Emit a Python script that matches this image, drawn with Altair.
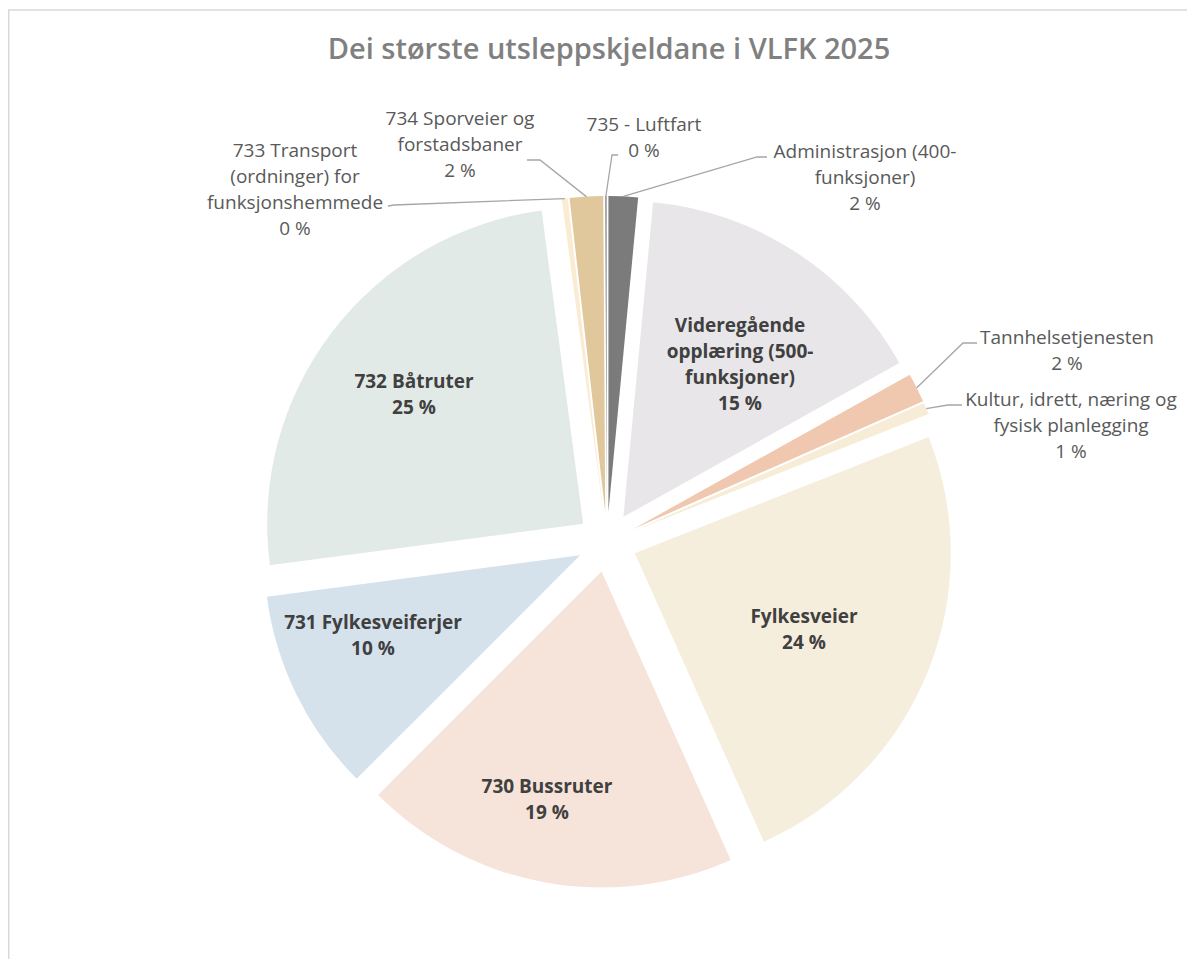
import math
import altair as alt
import pandas as pd

# ---------------- data ----------------
title_text = "Dei største utsleppskjeldane i VLFK 2025"

categories = [
    "Administrasjon (400-funksjoner)",
    "Videregående opplæring (500-funksjoner)",
    "Tannhelsetjenesten",
    "Kultur, idrett, næring og fysisk planlegging",
    "Fylkesveier",
    "730 Bussruter",
    "731 Fylkesveiferjer",
    "732 Båtruter",
    "733 Transport (ordninger) for funksjonshemmede",
    "734 Sporveier og forstadsbaner",
    "735 - Luftfart",
]
values = [1.5, 15.4, 1.5, 0.6, 24.3, 19.2, 10.4, 25.0, 0.3, 1.7, 0.1]

label_lines = [
    ["Administrasjon (400-", "funksjoner)"],
    ["Videregående", "opplæring (500-", "funksjoner)"],
    ["Tannhelsetjenesten"],
    ["Kultur, idrett, næring og", "fysisk planlegging"],
    ["Fylkesveier"],
    ["730 Bussruter"],
    ["731 Fylkesveiferjer"],
    ["732 Båtruter"],
    ["733 Transport", "(ordninger) for", "funksjonshemmede"],
    ["734 Sporveier og", "forstadsbaner"],
    ["735 - Luftfart"],
]
label_inside = [False, True, False, False, True, True, True, True, False, False, False]

# ---------------- styles / layout ----------------
colors = ["#7b7b7b", "#e8e6e9", "#f0c8b0", "#f7ecd6", "#f6eedd", "#f6e3d9",
          "#d5e2ec", "#e2eae7", "#faecd3", "#e0c89c", "#a5a5a5"]

# label block centres in the chart area (pixels)
label_x = [857, 732, 1059, 1063, 796, 539, 365, 406, 287, 452, 636]
label_y = [170, 357, 343, 418, 622, 792, 628, 387, 182, 137, 130]
# leader line elbow and end points (outside labels only)
elbow_x = [749, None, 955, 940, None, None, None, None, 386, 532, 604]
elbow_y = [149, None, 335, 397, None, None, None, None, 197, 152, 147]
end_x = [759, None, 969, 954, None, None, None, None, 380, 519, 610]
end_y = [149, None, 335, 397, None, None, None, None, 198, 152, 147]

W, H = 1179, 951
CX, CY = 599, 534
R = 316
EXPLODE = 30
FONT = "Open Sans"
LH = 26

total = sum(values)
starts, ends = [], []
acc = 0.0
for v in values:
    starts.append(acc)
    acc += v
    ends.append(acc)


def pct(v):
    return f"{int(v / total * 100 + 0.5)} %"


rows, lines = [], []
for i, c in enumerate(categories):
    mid = (starts[i] + ends[i]) / 2 / total * 2 * math.pi
    txt = label_lines[i] + [pct(values[i])]
    rows.append(dict(
        cat=c, value=values[i], start=starts[i], end=ends[i],
        ox=CX + EXPLODE * math.sin(mid), oy=CY - EXPLODE * math.cos(mid),
        lx=label_x[i], ly=label_y[i] - (len(txt) - 1) * LH / 2,
        label="\n".join(txt),
        inside=label_inside[i],
    ))
    if not label_inside[i]:
        rr = R + EXPLODE
        lines.append(dict(cat=c, seq=0, x=CX + rr * math.sin(mid), y=CY - rr * math.cos(mid)))
        lines.append(dict(cat=c, seq=1, x=elbow_x[i], y=elbow_y[i]))
        lines.append(dict(cat=c, seq=2, x=end_x[i], y=end_y[i]))

df = pd.DataFrame(rows)
df_in = df[df["inside"]]
df_out = df[~df["inside"]]
df_lines = pd.DataFrame(lines)

arcs = alt.Chart(df).mark_arc(outerRadius=R, innerRadius=0).encode(
    theta=alt.Theta("start:Q", scale=alt.Scale(domain=[0, total])),
    theta2="end:Q",
    x=alt.X("ox:Q", scale=None, axis=None),
    y=alt.Y("oy:Q", scale=None, axis=None),
    color=alt.Color("cat:N", scale=alt.Scale(domain=categories, range=colors), legend=None),
)

leaders = alt.Chart(df_lines).mark_line(color="#a6a6a6", strokeWidth=1.3).encode(
    x=alt.X("x:Q", scale=None, axis=None),
    y=alt.Y("y:Q", scale=None, axis=None),
    detail="cat:N",
    order="seq:O",
)

text_in = alt.Chart(df_in).mark_text(
    font=FONT, fontSize=19, fontWeight="bold", color="#404040",
    lineBreak="\n", lineHeight=LH, align="center", baseline="middle",
).encode(
    x=alt.X("lx:Q", scale=None, axis=None),
    y=alt.Y("ly:Q", scale=None, axis=None),
    text="label:N",
)

text_out = alt.Chart(df_out).mark_text(
    font=FONT, fontSize=19, color="#595959",
    lineBreak="\n", lineHeight=LH, align="center", baseline="middle",
).encode(
    x=alt.X("lx:Q", scale=None, axis=None),
    y=alt.Y("ly:Q", scale=None, axis=None),
    text="label:N",
)

title = alt.Chart(pd.DataFrame({"t": [title_text]})).mark_text(
    font=FONT, fontSize=29, fontWeight=600, color="#808080",
    align="center", baseline="middle",
).encode(x=alt.value(601), y=alt.value(42), text="t:N")

frame_top = alt.Chart(pd.DataFrame({"a": [0]})).mark_rule(color="#d9d9d9", strokeWidth=1.5).encode(
    x=alt.value(0), x2=alt.value(W), y=alt.value(2))
frame_left = alt.Chart(pd.DataFrame({"a": [0]})).mark_rule(color="#d9d9d9", strokeWidth=1.5).encode(
    x=alt.value(0.75), y=alt.value(2), y2=alt.value(H))

chart = alt.layer(frame_top, frame_left, arcs, leaders, text_in, text_out, title).properties(
    width=W, height=H, padding=0, autosize=alt.AutoSizeParams(type="none"),
).configure_view(stroke=None)

chart.save("out.html", embed_options={"renderer": "svg", "actions": False})
